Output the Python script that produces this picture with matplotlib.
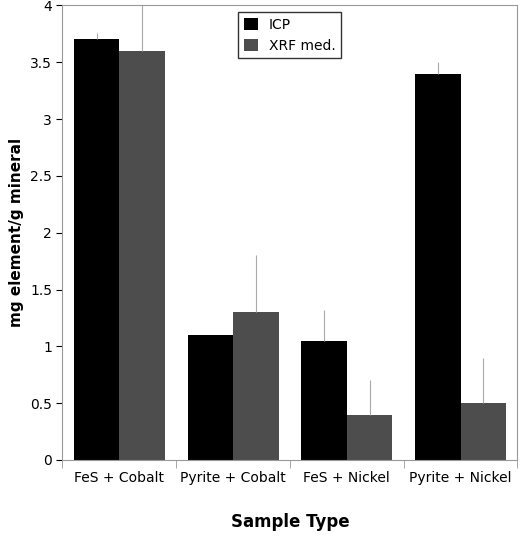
import matplotlib.pyplot as plt
import numpy as np

categories = ['FeS + Cobalt', 'Pyrite + Cobalt', 'FeS + Nickel', 'Pyrite + Nickel']
icp = [3.7, 1.1, 1.05, 3.4]
icp_err = [0.06, 0.0, 0.27, 0.1]
xrf = [3.6, 1.3, 0.4, 0.5]
xrf_err = [0.45, 0.5, 0.3, 0.4]

fig, ax = plt.subplots(figsize=(5.2, 5.38), dpi=100)
fig.subplots_adjust(left=0.12, right=0.995, top=0.99, bottom=0.145)

x = np.arange(len(categories))
w = 0.4
ekw = dict(ecolor='#aaaaaa', elinewidth=0.8, capsize=0)
ax.bar(x - w/2, icp, w, color='black', label='ICP',
       yerr=[np.zeros(4), icp_err], error_kw=ekw)
ax.bar(x + w/2, xrf, w, color='#4d4d4d', label='XRF med.',
       yerr=[np.zeros(4), xrf_err], error_kw=ekw)

ax.set_xlim(-0.5, 3.5)
ax.set_ylim(0, 4)
ax.set_yticks(np.arange(0, 4.01, 0.5))
ax.set_yticklabels(['0', '0.5', '1', '1.5', '2', '2.5', '3', '3.5', '4'])
ax.set_xticks(x)
ax.set_xticklabels(categories, fontsize=10)
ax.set_xticks(np.arange(-0.5, 3.6, 1), minor=True)
ax.tick_params(axis='x', which='major', length=0, pad=8)
ax.tick_params(axis='x', which='minor', length=6, color='#999999')
ax.tick_params(axis='y', labelsize=10, length=4)
for s in ax.spines.values():
    s.set_color('#999999')

ax.set_xlabel('Sample Type', fontsize=12, fontweight='bold', labelpad=20)
ax.set_ylabel('mg element/g mineral', fontsize=11, fontweight='bold')
ax.legend(loc='upper center', bbox_to_anchor=(0.5, 1.0), fancybox=False,
          edgecolor='black', fontsize=10, handlelength=1.0, handleheight=1.0)

fig.savefig('out.png')
